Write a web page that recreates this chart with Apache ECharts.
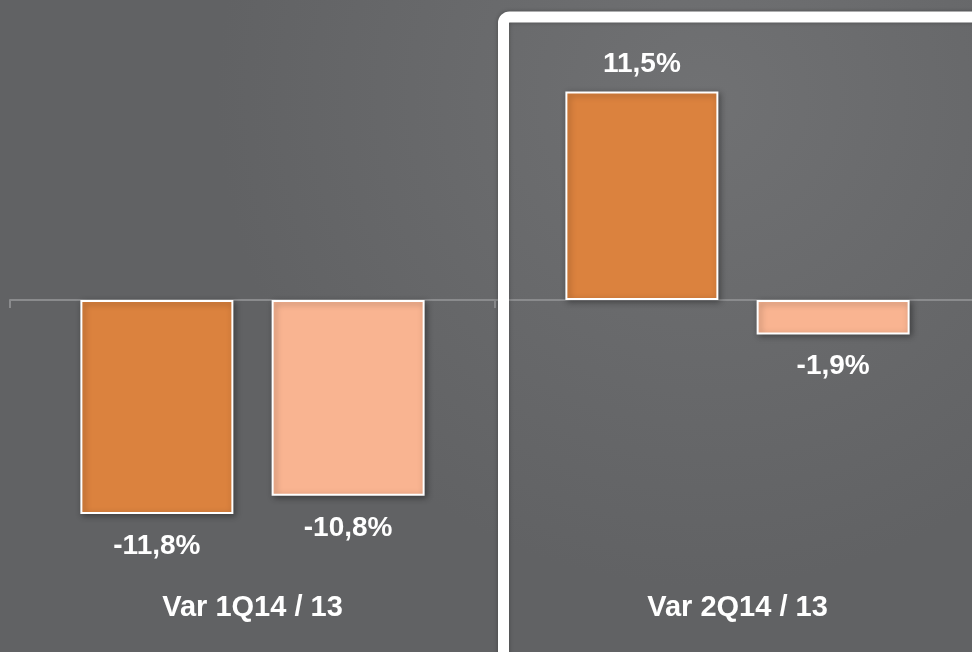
<!DOCTYPE html>
<html>
<head>
<meta charset="utf-8">
<script src="https://cdn.jsdelivr.net/npm/echarts@6/dist/echarts.min.js"></script>
<style>html,body{margin:0;padding:0;background:#636466;overflow:hidden;}#c{width:980px;height:652px;}</style>
</head>
<body>
<div id="c"></div>
<script>
const categories = ['Var 1Q14 / 13', 'Var 2Q14 / 13'];
const seriesA = [-11.8, 11.5];
const seriesB = [-10.8, -1.9];
const yMin = -15, yMax = 15;

const fmt = v => v.toFixed(1).replace('.', ',') + '%';
const labelStyle = {
  show: true, color: '#ffffff', fontFamily: 'Liberation Sans, Arial, sans-serif',
  fontWeight: 'bold', fontSize: 28,
  formatter: p => fmt(p.value)
};
function mk(vals){
  return vals.map(v => ({value: v, label: v < 0 ? {position: 'bottom', distance: 18} : {position: 'top', distance: 13}}));
}
const barStyle = (c) => ({
  color: c, borderColor: '#ffffff', borderWidth: 2,
  shadowColor: 'rgba(0,0,0,0.35)', shadowBlur: 6, shadowOffsetX: 2, shadowOffsetY: 2
});

const chart = echarts.init(document.getElementById('c'), null, {renderer: 'canvas'});
chart.setOption({
  backgroundColor: {
    type: 'radial', x: 0.72, y: 0.15, r: 0.75,
    colorStops: [{offset: 0, color: '#707173'}, {offset: 1, color: '#616264'}]
  },
  animation: false,
  grid: {left: 10, right: 0, top: 28, bottom: 80, containLabel: false},
  xAxis: [{
    type: 'category', data: categories, position: 'bottom',
    axisLine: {show: false, onZero: false}, axisTick: {show: false},
    axisLabel: {color: '#ffffff', fontFamily: 'Liberation Sans, Arial, sans-serif',
      fontWeight: 'bold', fontSize: 29, margin: 21}
  }, {
    type: 'category', data: categories, position: 'bottom',
    axisLine: {show: true, onZero: true, lineStyle: {color: '#8a8b8d', width: 2}},
    axisTick: {show: true, length: 8, lineStyle: {color: '#8a8b8d', width: 2}},
    axisLabel: {show: false}
  }],
  yAxis: {type: 'value', min: yMin, max: yMax, show: false, splitLine: {show: false}},
  series: [{
    type: 'bar', data: mk(seriesA), barWidth: 153, barGap: '25%',
    itemStyle: barStyle('#db823e'), label: labelStyle
  }, {
    type: 'bar', data: mk(seriesB), barWidth: 153, barGap: '25%',
    itemStyle: barStyle('#f9b491'), label: labelStyle
  }],
  graphic: [{
    type: 'rect', z: 100, silent: true,
    shape: {x: 503.5, y: 17, width: 520, height: 700, r: 6},
    style: {fill: 'none', stroke: '#ffffff', lineWidth: 11,
      shadowColor: 'rgba(0,0,0,0.3)', shadowBlur: 4}
  }]
});
</script>
</body>
</html>
